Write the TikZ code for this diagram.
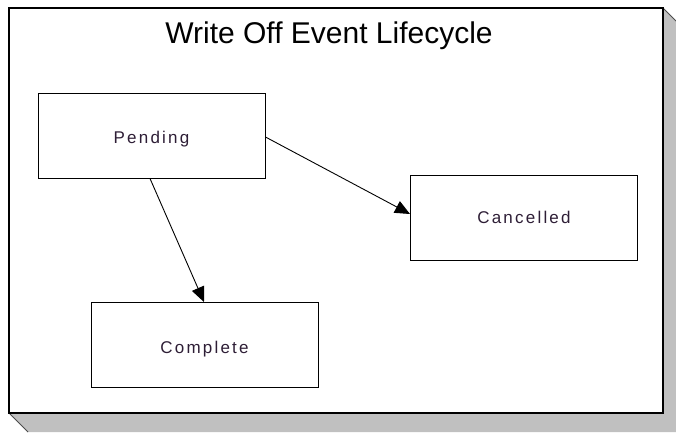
\documentclass[tikz,border=0pt]{standalone}
\usepackage{fontspec}
\setmainfont{Liberation Sans}
\usetikzlibrary{arrows.meta}
\definecolor{shadowgray}{HTML}{C0C0C0}
\definecolor{labelpurple}{HTML}{2E1E36}
\tikzset{
  state/.style={draw=black, line width=1pt, fill=white, minimum width=227pt, minimum height=85pt, inner sep=0pt,
    font=\fontsize{17}{19}\selectfont\addfontfeature{LetterSpace=13}, text=labelpurple},
  trans/.style={draw=black, line width=0.9pt, -{Triangle[length=15pt,width=13pt]}},
}
\newcommand{\lowtext}[1]{\raisebox{-4pt}[\height][\depth]{#1}}
\begin{document}
\begin{tikzpicture}[x=1pt,y=-1pt]
\useasboundingbox (0,0) rectangle (676,432);
\fill[fill=shadowgray] (9,413) -- (28,432) -- (676,432) -- (676,21) -- (663,8) -- cycle;
\draw[black!70, line width=1pt] (9,413) -- (28,432);
\draw[black!70, line width=1pt] (663,8) -- (676,21);
\draw[black, line width=2.5pt, fill=white] (9,8) rectangle (663,413);
\node[font=\fontsize{30}{34}\selectfont, text=black] (title) at (329,36) {Write Off Event Lifecycle};
\node[state] (pending) at (151.5,135.5) {\lowtext{Pending}};
\node[state] (cancelled) at (524,217.5) {Cancelled};
\node[state] (complete) at (204.5,345) {\lowtext{Complete}};
\draw[trans] (pending.east |- 0,137) -- (cancelled.west |- 0,214);
\draw[trans] (pending.south -| 150,0) -- (complete.north -| 204,0);
\end{tikzpicture}
\end{document}
